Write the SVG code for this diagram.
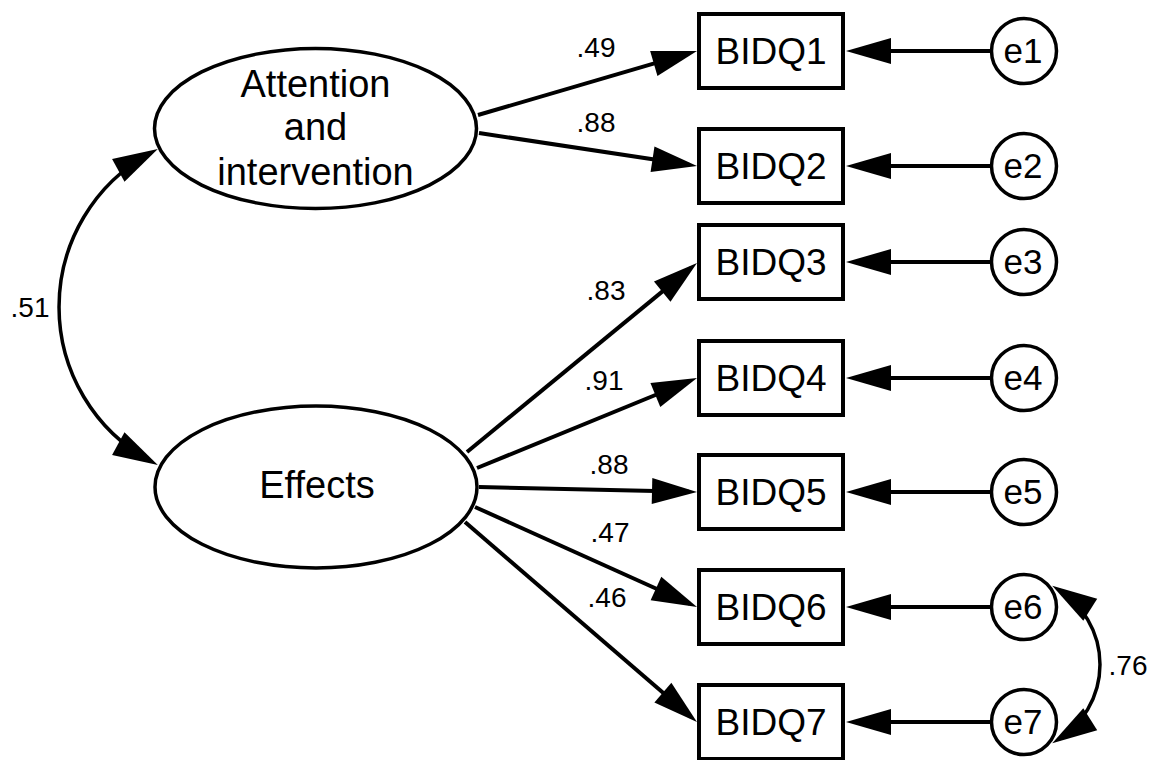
<svg xmlns="http://www.w3.org/2000/svg" width="1151" height="760" viewBox="0 0 1151 760">
<style>
text{font-family:"Liberation Sans",Arial,sans-serif;fill:#000;text-anchor:middle}
.lat{fill:#fff;stroke:#000;stroke-width:3.5}
.obs{fill:#fff;stroke:#000;stroke-width:4}
.err{fill:#fff;stroke:#000;stroke-width:3.5}
.big{font-size:38px}
.box{font-size:37px}
.et{font-size:35px}
.lbl{font-size:28px}
.con{fill:none;stroke:#000;stroke-width:4;marker-end:url(#ah)}
.cov{fill:none;stroke:#000;stroke-width:3.5;marker-start:url(#ah);marker-end:url(#ah)}
</style>
<defs>
<marker id="ah" markerUnits="userSpaceOnUse" markerWidth="45" markerHeight="26" viewBox="0 0 45 26" refX="37" refY="13" orient="auto-start-reverse" overflow="visible">
<path d="M0,0 L45,13 L0,26 z" fill="#000"/>
</marker>
</defs>
<rect width="1151" height="760" fill="#fff"/>
<g id="connectors">
<path class="con" d="M478,115 L689.3,53.2"/>
<path class="con" d="M479,133 L689.1,164.8"/>
<path class="con" d="M467,452 L690.8,268.1"/>
<path class="con" d="M477,468 L689.6,381"/>
<path class="con" d="M479,487 L689,491.8"/>
<path class="con" d="M475,507 L689.7,603.7"/>
<path class="con" d="M465,522 L690.9,716.8"/>
<path class="con" d="M991,51 L854,51"/>
<path class="con" d="M991,166 L854,166"/>
<path class="con" d="M991,262 L854,262"/>
<path class="con" d="M991,378 L854,378"/>
<path class="con" d="M991,492 L854,492"/>
<path class="con" d="M991,607 L854,607"/>
<path class="con" d="M991,722 L854,722"/>
<path class="cov" d="M150.8,152.7 A175.6,175.6 0 0 0 150.8,461.3"/>
<path class="cov" d="M1059,590 A88.2,88.2 0 0 1 1059,739"/>
<text class="lbl" x="596" y="57">.49</text>
<text class="lbl" x="596" y="132">.88</text>
<text class="lbl" x="606" y="300">.83</text>
<text class="lbl" x="604" y="390">.91</text>
<text class="lbl" x="609" y="474">.88</text>
<text class="lbl" x="610" y="542">.47</text>
<text class="lbl" x="607" y="607">.46</text>
<text class="lbl" x="30" y="317">.51</text>
<text class="lbl" x="1128" y="675">.76</text>
</g>
<g id="attention">
<ellipse class="lat" cx="315.5" cy="128.5" rx="161" ry="80"/>
<text class="big" x="315.5" y="97">Attention</text>
<text class="big" x="315.5" y="140">and</text>
<text class="big" x="315.5" y="185">intervention</text>
</g>
<g id="effects">
<ellipse class="lat" cx="316" cy="487" rx="161" ry="81"/>
<text class="big" x="317" y="498">Effects</text>
</g>
<g id="BIDQ1"><rect class="obs" x="699" y="14" width="144" height="74"/><text class="box" x="771" y="64">BIDQ1</text></g>
<g id="BIDQ2"><rect class="obs" x="699" y="129" width="144" height="74"/><text class="box" x="771" y="179">BIDQ2</text></g>
<g id="BIDQ3"><rect class="obs" x="699" y="225" width="144" height="74"/><text class="box" x="771" y="275">BIDQ3</text></g>
<g id="BIDQ4"><rect class="obs" x="699" y="341" width="144" height="74"/><text class="box" x="771" y="391">BIDQ4</text></g>
<g id="BIDQ5"><rect class="obs" x="699" y="455" width="144" height="74"/><text class="box" x="771" y="505">BIDQ5</text></g>
<g id="BIDQ6"><rect class="obs" x="699" y="570" width="144" height="74"/><text class="box" x="771" y="620">BIDQ6</text></g>
<g id="BIDQ7"><rect class="obs" x="699" y="685" width="144" height="74"/><text class="box" x="771" y="735">BIDQ7</text></g>
<g id="e1"><circle class="err" cx="1024" cy="51" r="32.5"/><text class="et" x="1023" y="63">e1</text></g>
<g id="e2"><circle class="err" cx="1024" cy="166" r="32.5"/><text class="et" x="1023" y="178">e2</text></g>
<g id="e3"><circle class="err" cx="1024" cy="262" r="32.5"/><text class="et" x="1023" y="274">e3</text></g>
<g id="e4"><circle class="err" cx="1024" cy="378" r="32.5"/><text class="et" x="1023" y="390">e4</text></g>
<g id="e5"><circle class="err" cx="1024" cy="492" r="32.5"/><text class="et" x="1023" y="504">e5</text></g>
<g id="e6"><circle class="err" cx="1024" cy="607" r="32.5"/><text class="et" x="1023" y="619">e6</text></g>
<g id="e7"><circle class="err" cx="1024" cy="722" r="32.5"/><text class="et" x="1023" y="734">e7</text></g>
</svg>
